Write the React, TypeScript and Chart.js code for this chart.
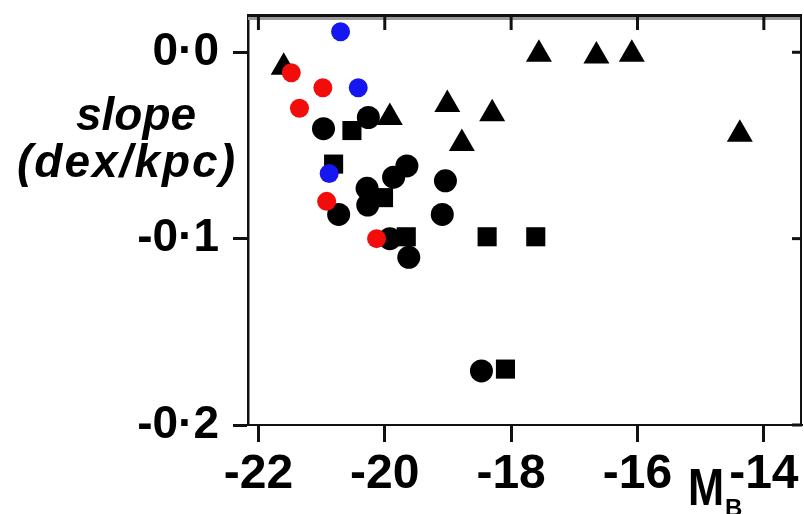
import React, { useEffect, useRef } from "react";
import { Chart, registerables } from "chart.js";

Chart.register(...registerables);

// Absolute magnitude M_B (x) and abundance-gradient slope in dex/kpc (y)
const blueX = [-20.70, -20.42, -20.88];
const blueY = [0.011, -0.019, -0.065];

const redX = [-21.48, -20.98, -21.35, -20.92, -20.13];
const redY = [-0.011, -0.019, -0.030, -0.080, -0.100];

const circleX = [-20.26, -20.97, -19.65, -19.86, -20.28, -20.27, -19.04, -20.73, -19.09, -19.92, -19.62, -18.47];
const circleY = [-0.035, -0.041, -0.061, -0.067, -0.073, -0.082, -0.069, -0.087, -0.087, -0.100, -0.110, -0.171];

const squareX = [-20.52, -20.81, -20.02, -19.66, -18.38, -17.61, -18.09];
const squareY = [-0.042, -0.060, -0.078, -0.099, -0.099, -0.099, -0.170];

const triangleX = [-21.60, -19.92, -19.01, -18.30, -18.78, -17.56, -16.65, -16.09, -14.38];
const triangleY = [-0.008, -0.035, -0.028, -0.033, -0.049, -0.001, -0.002, -0.001, -0.044];

const xTickValues = [-22, -20, -18, -16, -14];
const yTickValues = [-0.2, -0.1, 0.0];

const xMin = -22.165;
const xMax = -13.396;
const yMin = -0.2;
const yMax = 0.02;

const yTitleLines = ["slope", "(dex/kpc)"];
const xTitleMain = "M";
const xTitleSub = "B";

const pts = (xs: number[], ys: number[]) => xs.map((x, i) => ({ x, y: ys[i] }));

const fmtY = (v: number) => {
  const s = Math.abs(v).toFixed(1).replace(".", "\u00B7");
  return (v < -1e-9 ? "-" : "") + s;
};
const fmtX = (v: number) => String(Math.round(v));

const FONT = "'Liberation Sans', Arial, Helvetica, sans-serif";

const framePlugin = {
  id: "frame",
  afterDraw(chart: any) {
    const ctx = chart.ctx;
    const { left, right, top, bottom } = chart.chartArea;
    const xs = chart.scales.x;
    const ys = chart.scales.y;
    ctx.save();
    // top axis line (scan looks heavy with a grey band)
    ctx.fillStyle = "#9a9a9a";
    ctx.fillRect(left, top, right - left, 5);
    ctx.fillStyle = "#111";
    ctx.fillRect(left, top - 1, right - left, 3);
    // right axis line
    ctx.fillRect(right - 2, top, 2, bottom - top);
    // inward ticks on top
    ctx.strokeStyle = "#111";
    ctx.lineWidth = 3;
    xTickValues.forEach((v) => {
      const px = xs.getPixelForValue(v);
      ctx.beginPath();
      ctx.moveTo(px, top);
      ctx.lineTo(px, top + 15);
      ctx.stroke();
    });
    // inward ticks on right
    yTickValues.forEach((v) => {
      const py = ys.getPixelForValue(v);
      ctx.beginPath();
      ctx.moveTo(right, py);
      ctx.lineTo(right - 10, py);
      ctx.stroke();
    });
    // y title
    ctx.fillStyle = "#000";
    ctx.textAlign = "center";
    ctx.textBaseline = "alphabetic";
    ctx.font = `italic bold 46px ${FONT}`;
    ctx.fillText(yTitleLines[0], 136, 130);
    try {
      (ctx as any).letterSpacing = "2px";
    } catch (e) {}
    ctx.fillText(yTitleLines[1], 127, 177);
    try {
      (ctx as any).letterSpacing = "0px";
    } catch (e) {}
    // x title M_B
    ctx.textAlign = "left";
    ctx.save();
    ctx.translate(688, 505);
    ctx.scale(0.85, 1);
    ctx.font = `bold 51px ${FONT}`;
    ctx.fillText(xTitleMain, 0, 0);
    ctx.restore();
    ctx.font = `bold 24px ${FONT}`;
    ctx.fillText(xTitleSub, 725, 516);
    ctx.restore();
  },
};

export default function App() {
  const ref = useRef<HTMLCanvasElement | null>(null);

  useEffect(() => {
    if (!ref.current) return;
    const tickFont = { family: FONT, weight: "bold" as const };
    const chart = new Chart(ref.current, {
      type: "scatter",
      data: {
        datasets: [
          {
            data: pts(redX, redY),
            backgroundColor: "rgb(242,12,12)",
            borderWidth: 0,
            pointRadius: 9.5,
            pointStyle: "circle",
          },
          {
            data: pts(blueX, blueY),
            backgroundColor: "rgb(22,22,240)",
            borderWidth: 0,
            pointRadius: 9.5,
            pointStyle: "circle",
          },
          {
            data: pts(triangleX, triangleY),
            backgroundColor: "#000",
            borderWidth: 0,
            pointRadius: 15,
            pointStyle: "triangle",
          },
          {
            data: pts(squareX, squareY),
            backgroundColor: "#000",
            borderWidth: 0,
            pointRadius: 13.5,
            pointStyle: "rect",
          },
          {
            data: pts(circleX, circleY),
            backgroundColor: "#000",
            borderWidth: 0,
            pointRadius: 11.5,
            pointStyle: "circle",
          },
        ],
      },
      options: {
        responsive: false,
        animation: false,
        devicePixelRatio: 1,
        events: [],
        layout: { padding: { top: 15, right: 10, left: 0, bottom: 0 } },
        plugins: { legend: { display: false }, tooltip: { enabled: false } },
        scales: {
          x: {
            type: "linear",
            position: "bottom",
            min: xMin,
            max: xMax,
            afterBuildTicks: (s: any) => {
              s.ticks = xTickValues.map((v) => ({ value: v }));
            },
            afterFit: (s: any) => {
              s.height = 89;
              s.paddingLeft = 0;
              s.paddingRight = 0;
            },
            ticks: {
              autoSkip: false,
              maxRotation: 0,
              color: "#000",
              padding: 4,
              font: { ...tickFont, size: 48 },
              callback: (v: any) => fmtX(Number(v)),
            },
            grid: {
              drawOnChartArea: false,
              drawTicks: true,
              tickLength: 17,
              tickWidth: 3,
              tickColor: "#111",
            },
            border: { display: true, color: "#111", width: 2 },
          },
          y: {
            type: "linear",
            position: "left",
            min: yMin,
            max: yMax,
            afterBuildTicks: (s: any) => {
              s.ticks = yTickValues.map((v) => ({ value: v }));
            },
            afterFit: (s: any) => {
              s.width = 248;
              s.paddingTop = 0;
              s.paddingBottom = 0;
            },
            ticks: {
              autoSkip: false,
              color: "#000",
              padding: 14,
              font: { ...tickFont, size: 46 },
              callback: (v: any) => fmtY(Number(v)),
            },
            grid: {
              drawOnChartArea: false,
              drawTicks: true,
              tickLength: 15,
              tickWidth: 3,
              tickColor: "#111",
            },
            border: { display: true, color: "#111", width: 2.5 },
          },
        },
      },
      plugins: [framePlugin],
    });
    return () => chart.destroy();
  }, []);

  return (
    <div
      style={{
        position: "fixed",
        left: 0,
        top: 0,
        width: 804,
        height: 514,
        overflow: "hidden",
        background: "#fff",
      }}
    >
      <canvas ref={ref} width={817} height={514} style={{ width: 817, height: 514, display: "block" }} />
    </div>
  );
}
